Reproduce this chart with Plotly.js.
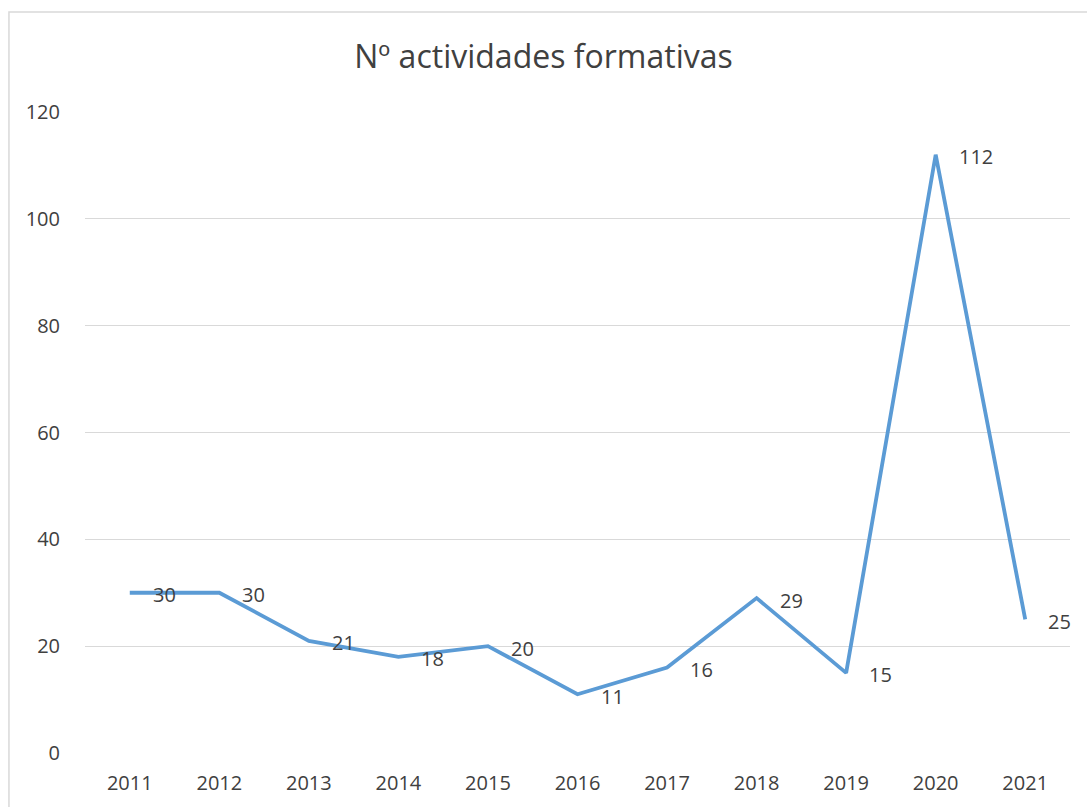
<!DOCTYPE html>
<html>
<head>
<meta charset="utf-8">
<script src="https://cdn.plot.ly/plotly-3.0.1.min.js"></script>
<style>
  html, body { margin: 0; padding: 0; background: #fff; }
  #chart { width: 1087px; height: 807px; }
</style>
</head>
<body>
<div id="chart"></div>
<script>
// años y número de actividades formativas
var years = ['2011', '2012', '2013', '2014', '2015', '2016', '2017', '2018', '2019', '2020', '2021'];
var activities = [30, 30, 21, 18, 20, 11, 16, 29, 15, 112, 25];

var txtColor = '#404040';
var fontFam = '"Open Sans", "Noto Sans", sans-serif';

var trace = {
    x: years,
    y: activities,
    type: 'scatter',
    mode: 'lines',
    line: { color: '#5B9BD5', width: 3.8 },
    hoverinfo: 'x+y'
};

// etiquetas de datos a la derecha de cada punto
var labels = years.map(function(yr, i) {
    return {
        x: i,
        y: activities[i],
        text: String(activities[i]),
        showarrow: false,
        xanchor: 'left',
        yanchor: 'middle',
        xshift: 21,
        yshift: -2,
        font: { family: fontFam, size: 20, color: txtColor }
    };
});

var layout = {
    width: 1087,
    height: 807,
    margin: { l: 85, r: 17, t: 112, b: 54 },
    paper_bgcolor: '#ffffff',
    plot_bgcolor: '#ffffff',
    showlegend: false,
    title: {
        text: 'Nº actividades formativas',
        font: { family: fontFam, size: 32, color: txtColor },
        x: 0.5,
        xanchor: 'center',
        y: 0.929,
        yanchor: 'middle'
    },
    xaxis: {
        type: 'category',
        categoryorder: 'array',
        categoryarray: years,
        range: [-0.5, years.length - 0.5],
        showgrid: false,
        zeroline: false,
        showline: false,
        ticks: 'outside',
        ticklen: 12,
        tickcolor: 'rgba(0,0,0,0)',
        tickfont: { family: fontFam, size: 20, color: txtColor }
    },
    yaxis: {
        range: [0, 120],
        dtick: 20,
        showgrid: true,
        gridcolor: '#d9d9d9',
        gridwidth: 1.3,
        zeroline: false,
        showline: false,
        ticks: 'outside',
        ticklen: 20,
        tickcolor: 'rgba(0,0,0,0)',
        tickfont: { family: fontFam, size: 20, color: txtColor }
    },
    annotations: labels,
    shapes: [{
        type: 'rect',
        xref: 'paper', yref: 'paper',
        x0: -0.0772, x1: 1.05,
        y0: -0.12, y1: 1.156,
        line: { color: '#d9d9d9', width: 1.5 },
        fillcolor: 'rgba(0,0,0,0)',
        layer: 'below'
    }]
};

Plotly.newPlot('chart', [trace], layout, { displayModeBar: false, responsive: false });
</script>
</body>
</html>
